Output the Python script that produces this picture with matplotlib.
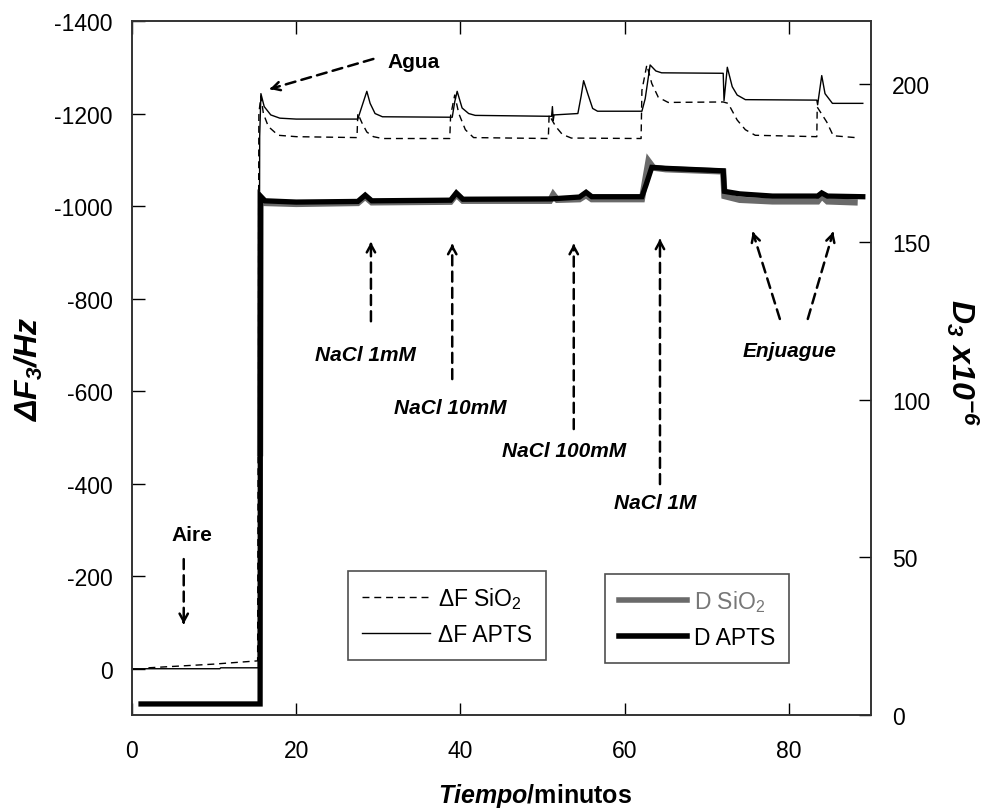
import matplotlib
matplotlib.use("Agg")
import matplotlib.pyplot as plt

plt.rcParams['font.family'] = ['Liberation Sans', 'DejaVu Sans']
plt.rcParams['mathtext.fontset'] = 'custom'
plt.rcParams['mathtext.rm'] = 'Liberation Sans'
plt.rcParams['mathtext.it'] = 'Liberation Sans:italic:bold'
plt.rcParams['mathtext.bf'] = 'Liberation Sans:bold'
plt.rcParams['mathtext.default'] = 'regular'
plt.rcParams['axes.unicode_minus'] = False

# frequency shift, APTS (solid thin line)
t_f_apts = [0.0, 10.7, 10.8, 15.4, 15.55, 15.7, 16.1, 16.9, 18.0, 20.0, 27.5,
            27.9, 28.6, 29.0, 29.6, 30.5, 39.0, 39.3, 39.6, 40.2, 41.0, 41.8,
            51.1, 51.2, 51.3, 51.4, 54.3, 54.7, 55.0, 55.5, 56.1, 56.7, 62.1,
            62.5, 63.1, 63.8, 64.5, 72.0, 72.1, 72.5, 73.1, 73.7, 74.7, 83.4,
            83.5, 84.0, 84.4, 85.3, 89.0]
f_apts = [0, 0, -2, -2, -1150, -1243, -1215, -1197, -1190, -1188, -1188,
          -1210, -1248, -1222, -1200, -1193, -1192, -1225, -1248, -1212, -1200,
          -1196, -1194, -1215, -1185, -1197, -1200, -1238, -1271, -1243, -1211,
          -1205, -1205, -1232, -1305, -1292, -1288, -1287, -1228, -1300, -1258,
          -1240, -1230, -1229, -1219, -1282, -1243, -1222, -1222]

# frequency shift, SiO2 (dashed thin line)
t_f_sio2 = [2.0, 6.0, 10.0, 13.0, 15.3, 15.45, 15.7, 16.0, 16.6, 17.8, 20.0,
            27.4, 27.5, 28.0, 28.6, 29.4, 30.5, 38.7, 38.8, 39.3, 39.8, 40.6,
            41.6, 50.7, 50.8, 51.6, 52.4, 53.5, 62.0, 62.1, 62.7, 63.3, 64.1,
            65.3, 72.0, 72.6, 73.7, 74.7, 75.9, 83.4, 83.45, 84.6, 85.4, 88.1]
f_sio2 = [-2, -6, -10, -14, -17, -1200, -1238, -1200, -1172, -1153, -1150,
          -1148, -1200, -1180, -1160, -1150, -1146, -1146, -1195, -1240, -1200,
          -1165, -1148, -1146, -1197, -1172, -1155, -1147, -1146, -1250, -1305,
          -1265, -1235, -1224, -1225, -1222, -1186, -1165, -1153, -1150, -1214,
          -1182, -1152, -1148]

# dissipation, APTS (thick black)
t_d_apts = [1.1, 15.6, 15.65, 16.2, 20.0, 27.5, 28.4, 29.2, 38.8, 39.5, 40.3,
            51.0, 54.5, 55.3, 56.0, 62.1, 62.6, 63.3, 65.0, 72.0, 72.15, 74.0,
            78.0, 83.5, 84.0, 84.7, 89.0]
d_apts = [3.5, 3.5, 164.5, 163.0, 162.6, 162.8, 164.8, 163.0, 163.2, 165.5,
          163.5, 163.6, 164.2, 165.7, 164.3, 164.3, 168.0, 173.6, 173.3, 172.5,
          166.0, 165.2, 164.5, 164.5, 165.5, 164.5, 164.3]

# dissipation, SiO2 (thick grey)
t_d_sio2 = [15.6, 15.65, 16.2, 20.0, 27.5, 28.4, 29.2, 38.8, 39.5, 40.3, 50.9,
            51.3, 51.8, 54.5, 55.3, 56.0, 62.1, 62.9, 63.5, 65.0, 72.0, 72.15,
            74.0, 78.0, 83.5, 84.0, 84.7, 88.0]
d_sio2 = [83.0, 164.0, 162.3, 162.0, 162.3, 164.3, 162.5, 162.7, 165.0, 163.0,
          163.0, 165.0, 163.3, 163.5, 164.8, 163.5, 163.5, 175.6, 173.5, 173.0,
          172.3, 164.5, 163.3, 162.8, 162.8, 164.5, 162.8, 162.5]

x_ticks = [0, 20, 40, 60, 80]
f_ticks = [-1400, -1200, -1000, -800, -600, -400, -200, 0]
d_ticks = [0, 50, 100, 150, 200]

fig = plt.figure(figsize=(9.93, 8.12), dpi=100)
ax = fig.add_axes([132 / 993, 1 - 716 / 812, 739 / 993, 694 / 812])
ax2 = ax.twinx()

ax.plot(t_f_sio2, f_sio2, color='k', lw=1.0, dashes=(5, 3.5))
ax.plot(t_f_apts, f_apts, color='k', lw=1.0)
ax2.plot(t_d_sio2, d_sio2, color='#6a6a6a', lw=4.5, solid_joinstyle='miter')
ax2.plot(t_d_apts, d_apts, color='k', lw=3.8, solid_joinstyle='miter')

ax.set_xlim(0, 90)
ax.set_ylim(100, -1400)
ax2.set_ylim(0, 220)
ax.set_xticks(x_ticks)
ax.set_yticks(f_ticks)
ax2.set_yticks(d_ticks)

for a in (ax, ax2):
    for s in a.spines.values():
        s.set_color('#333333')
        s.set_linewidth(1.2)
ax.tick_params(axis='x', direction='in', length=9, width=1, top=True,
               labelsize=16.5, pad=17)
ax.tick_params(axis='y', direction='in', length=9, width=1, labelsize=16.5,
               pad=14)
ax2.tick_params(axis='y', direction='in', length=9, width=1, labelsize=16.5,
                pad=15)

ax.set_xlabel('$\\mathit{Tiempo}$/minutos', fontsize=18, fontweight='bold',
              va='center')
ax.xaxis.set_label_coords(0.545, -0.115)
ax.set_ylabel('$\\Delta F_3$/Hz', fontsize=23, fontweight='bold',
              fontstyle='italic', va='center')
ax.yaxis.set_label_coords(-0.14, 0.5)
ax2.set_ylabel('D$_3$ x10$^{-6}$', fontsize=23, fontweight='bold',
               fontstyle='italic', rotation=270, va='center')
ax2.yaxis.set_label_coords(1.123, 0.51)

# legends
h_sio2, = ax.plot([], [], color='k', lw=1.0, dashes=(5, 3.5))
h_apts, = ax.plot([], [], color='k', lw=1.0)
leg1 = ax.legend([h_sio2, h_apts], ['\u0394F SiO$_2$', '\u0394F APTS'],
                 loc='upper left', bbox_to_anchor=(0.292, 0.2075),
                 borderaxespad=0, fancybox=False, edgecolor='#222222',
                 fontsize=16.5, handlelength=3.0, handletextpad=0.35,
                 labelspacing=0.55, borderpad=0.6)
leg1.get_frame().set_linewidth(1.2)
ax.add_artist(leg1)

g_sio2, = ax.plot([], [], color='#6a6a6a', lw=4)
g_apts, = ax.plot([], [], color='k', lw=4)
leg2 = ax.legend([g_sio2, g_apts], ['D SiO$_2$', 'D APTS'],
                 loc='upper left', bbox_to_anchor=(0.64, 0.203),
                 borderaxespad=0, fancybox=False, edgecolor='#222222',
                 fontsize=16.5, handlelength=3.0, handletextpad=0.3,
                 labelspacing=0.55, borderpad=0.6)
leg2.get_frame().set_linewidth(1.2)
leg2.get_texts()[0].set_color('#777777')


def dashed_arrow(tail, head):
    ax.annotate('', xy=head, xytext=tail,
                arrowprops=dict(arrowstyle='-', color='k', lw=1.8,
                                ls=(0, (4, 2.5)), shrinkA=0, shrinkB=1))
    near = (head[0] - 0.03 * (head[0] - tail[0]),
            head[1] - 0.03 * (head[1] - tail[1]))
    ax.annotate('', xy=head, xytext=near,
                arrowprops=dict(arrowstyle='->,head_length=0.55,head_width=0.3',
                                color='k', lw=1.8, shrinkA=0, shrinkB=0))


# annotations (t, F)
ax.text(34.3, -1313, 'Agua', fontsize=15, fontweight='bold',
        ha='center', va='center')
dashed_arrow((29.4, -1318), (16.8, -1253))
ax.text(7.3, -291, 'Aire', fontsize=15, fontweight='bold',
        ha='center', va='center')
dashed_arrow((6.3, -237), (6.3, -97))

labels = ['NaCl 1mM', 'NaCl 10mM', 'NaCl 100mM', 'NaCl 1M']
label_pos = [(28.4, -680), (38.7, -565), (52.6, -471), (63.7, -360)]
arrow_x = [29.1, 39.0, 53.8, 64.3]
arrow_tail = [-751, -626, -518, -399]
arrow_head = [-922, -918, -918, -929]
for lab, pos, xa, ft, fh in zip(labels, label_pos, arrow_x, arrow_tail,
                                arrow_head):
    ax.text(pos[0], pos[1], lab, fontsize=15, fontweight='bold',
            fontstyle='italic', ha='center', va='center')
    dashed_arrow((xa, ft), (xa, fh))

ax.text(80.1, -687, 'Enjuague', fontsize=15, fontweight='bold',
        fontstyle='italic', ha='center', va='center')
dashed_arrow((78.9, -756), (75.6, -944))
dashed_arrow((82.3, -756), (85.4, -944))

fig.savefig('out.png', dpi=100, facecolor='white')
